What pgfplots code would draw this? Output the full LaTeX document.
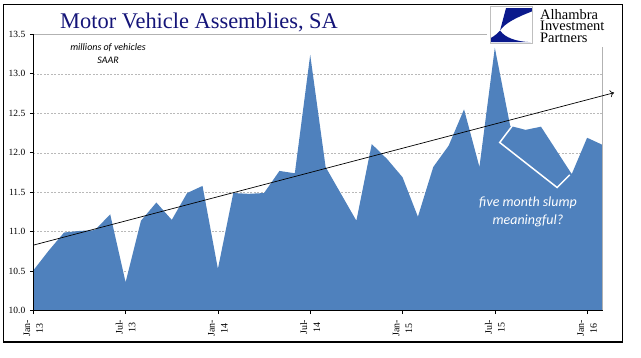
\documentclass[border=0pt]{standalone}
\usepackage{pgfplots}
\pgfplotsset{compat=1.18}
\usepackage{fontspec}
\setmainfont{Liberation Serif}
\newfontfamily\calibri{Carlito}
\usetikzlibrary{arrows.meta}
\definecolor{areablue}{RGB}{79,129,189}
\definecolor{titlenavy}{RGB}{20,20,120}
\definecolor{logonavy}{RGB}{10,25,140}

\pgfplotstableread{
idx val
0 10.51
1 10.76
2 10.99
3 11.01
4 11.02
5 11.22
6 10.36
7 11.14
8 11.37
9 11.15
10 11.49
11 11.58
12 10.53
13 11.49
14 11.48
15 11.49
16 11.77
17 11.74
18 13.24
19 11.82
20 11.48
21 11.14
22 12.11
23 11.92
24 11.69
25 11.19
26 11.82
27 12.09
28 12.55
29 11.82
30 13.33
31 12.34
32 12.29
33 12.33
34 12.03
35 11.73
36 12.19
37 12.10
}\assemblies

\begin{document}
\begin{tikzpicture}
\path[use as bounding box] (-33.3bp,-47.3bp) rectangle (607.7bp,310.7bp);
\begin{axis}[
  at={(0,0)}, anchor=south west,
  scale only axis, width=569.2bp, height=276.4bp,
  xmin=0, xmax=37, ymin=10, ymax=13.5,
  axis x line*=bottom, axis y line*=left,
  axis line style={black, line width=0.8bp},
  tick align=outside, major tick length=3.5bp,
  tick style={black, line width=0.6bp},
  xtick={0,6,12,18,24,30,36},
  xticklabels={{Jan-\\13},{Jul-\\13},{Jan-\\14},{Jul-\\14},{Jan-\\15},{Jul-\\15},{Jan-\\16}},
  ytick={10,10.5,11,11.5,12,12.5,13,13.5},
  ymajorgrids,
  grid style={dash pattern=on 2bp off 1.5bp, gray!55, line width=0.5bp},
  yticklabel style={font=\fontsize{9.5}{10}\selectfont, xshift=-1bp,
    /pgf/number format/.cd, fixed, fixed zerofill, precision=1, assume math mode=true},
  xticklabel style={font=\fontsize{10}{13}\selectfont, rotate=90, anchor=east, align=center, xshift=-2bp},
  clip=false,
]
\addplot[fill=areablue, draw=none] table[x=idx, y=val] {\assemblies}
  -- (axis cs:37,10) -- (axis cs:0,10) -- cycle;
\draw[gray!60, line width=0.6bp] (rel axis cs:0,1) -- (rel axis cs:1,1) -- (rel axis cs:1,0);
\draw[black, line width=0.8bp] (rel axis cs:0,1) -- (rel axis cs:0,0) -- (rel axis cs:1,0);
\addplot[black, line width=0.7bp, -{To[length=4bp,width=7bp]}] coordinates {(0,10.83) (37.75,12.76)};
\addplot[white, line width=1.5bp] coordinates {(31.13,12.34) (30.32,12.13) (34.05,11.56) (34.87,11.72)};
\end{axis}
% outer frame
\draw[black, line width=1.2bp] (-30bp,-31.3bp) rectangle (589.4bp,306.4bp);
% title
\node[anchor=base west, inner sep=0, text=titlenavy, font=\fontsize{22.5}{26}\selectfont] at (26.7bp,282.4bp) {Motor Vehicle Assemblies, SA};
% logo area
\fill[white] (453.7bp,263.5bp) rectangle (588.6bp,305.6bp);
\draw[gray!50, line width=0.5bp, fill=white] (457bp,267.4bp) rectangle (499.4bp,304bp);
\begin{scope}[shift={(457bp,304bp)}, x=42.4bp, y=-36.6bp]
  \fill[logonavy] (0.37,0.04) -- (0.98,0.04) -- (0.98,0.13) .. controls (0.6,0.3) and (0.35,0.45) .. (0.23,0.65) -- cycle;
  \fill[logonavy] (0.02,0.97) -- (0.02,0.85) .. controls (0.1,0.8) and (0.18,0.72) .. (0.23,0.65) .. controls (0.35,0.85) and (0.6,0.95) .. (0.95,0.97) -- cycle;
\end{scope}
\node[anchor=base west, inner sep=0, align=left, font=\fontsize{14.5}{11.8}\selectfont] at (506.7bp,268.0bp) {Alhambra\\Investment\\Partners};
% annotations
\node[align=center, inner sep=0, font=\calibri\itshape\fontsize{10}{13.4}\selectfont] at (74.7bp,257bp) {millions of vehicles\\SAAR};
\node[align=center, inner sep=0, text=white, font=\calibri\itshape\fontsize{14}{18}\selectfont] at (494.7bp,99bp) {five month slump\\meaningful?};
\end{tikzpicture}
\end{document}
